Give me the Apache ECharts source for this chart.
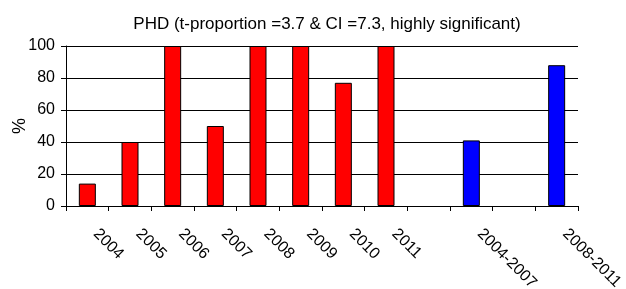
<!DOCTYPE html>
<html>
<head>
<meta charset="utf-8">
<script src="https://cdn.jsdelivr.net/npm/echarts@6/dist/echarts.min.js"></script>
<style>
  html, body { margin: 0; padding: 0; background: #fff; }
  #main { width: 626px; height: 289px; }
</style>
</head>
<body>
<div id="main"></div>
<script>
// categories, blanks are the empty slots between groups
const categories = ['2004', '2005', '2006', '2007', '2008', '2009', '2010', '2011', '', '2004-2007', '', '2008-2011']
// yearly values (red) and period values (blue), '-' = no bar
const yearValues = [14, 40, 100, 50, 100, 100, 77, 100, '-', '-', '-', '-']
const periodValues = ['-', '-', '-', '-', '-', '-', '-', '-', '-', 41, '-', 88]
const yTicks = [0, 20, 40, 60, 80, 100]

const chart = echarts.init(document.getElementById('main'))

const font = 'Liberation Sans, Arial, sans-serif'

const option = {
  backgroundColor: '#ffffff',
  animation: false,
  title: {
    text: 'PHD (t-proportion =3.7 & CI =7.3, highly significant)',
    left: 322,
    textAlign: 'center',
    top: 11,
    textStyle: {
      fontFamily: font,
      fontSize: 17,
      fontWeight: 'normal',
      color: '#000'
    }
  },
  grid: {
    left: 66,
    right: 48,
    top: 46,
    bottom: 83,
    outerBoundsMode: 'none',
    containLabel: false
  },
  xAxis: {
    type: 'category',
    data: categories,
    boundaryGap: true,
    axisLine: {
      lineStyle: { color: '#000', width: 1 }
    },
    axisTick: {
      show: true,
      alignWithLabel: false,
      interval: 0,
      length: 5,
      lineStyle: { color: '#000' }
    },
    axisLabel: {
      interval: 0,
      rotate: -45,
      margin: 17,
      padding: [0, 0, 0, 12],
      hideOverlap: false,
      fontFamily: font,
      fontSize: 16,
      color: '#000'
    }
  },
  yAxis: {
    type: 'value',
    min: yTicks[0],
    max: yTicks[yTicks.length - 1],
    interval: 20,
    name: '%',
    nameLocation: 'middle',
    nameRotate: 90,
    nameGap: 37,
    nameMoveOverlap: false,
    nameTextStyle: {
      fontFamily: font,
      fontSize: 18,
      color: '#000'
    },
    axisLine: {
      show: true,
      lineStyle: { color: '#000', width: 1 }
    },
    axisTick: {
      show: true,
      length: 5,
      lineStyle: { color: '#000' }
    },
    axisLabel: {
      margin: 11,
      fontFamily: font,
      fontSize: 16,
      color: '#000'
    },
    splitLine: {
      lineStyle: { color: '#000', width: 1 }
    }
  },
  series: [{
      name: 'years',
      type: 'bar',
      data: yearValues,
      barWidth: 17,
      barGap: '-100%',
      itemStyle: {
        color: '#ff0000',
        borderColor: '#000',
        borderWidth: 1
      }
    },
    {
      name: 'periods',
      type: 'bar',
      data: periodValues,
      barWidth: 17,
      barGap: '-100%',
      itemStyle: {
        color: '#0000ff',
        borderColor: '#000',
        borderWidth: 1
      }
    }
  ]
}

chart.setOption(option)
</script>
</body>
</html>
